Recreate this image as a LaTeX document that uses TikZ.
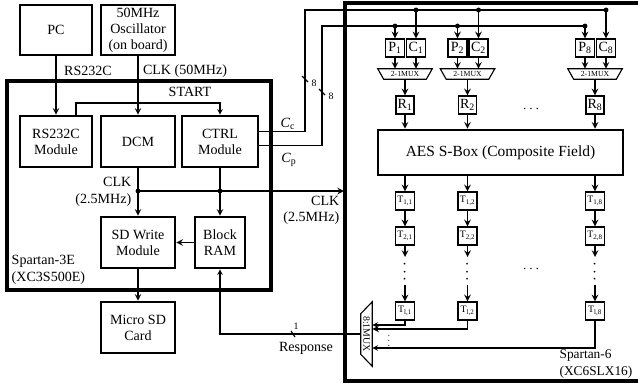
\documentclass[tikz,border=0pt]{standalone}
\usepackage{fontspec}
\setmainfont{Liberation Serif}
\usetikzlibrary{arrows, positioning, calc}
\tikzset{
  blk/.style={draw, line width=1.8pt, align=center, inner sep=0pt, font=\fontsize{10}{11.5}\selectfont},
  fpga/.style={draw, line width=2.6pt},
  reg/.style={draw, line width=1pt, minimum width=0.475cm, minimum height=0.45cm, inner sep=0pt, font=\fontsize{10}{10}\selectfont},
  treg/.style={reg, font=\fontsize{7}{7}\selectfont},
  muxl/.style={minimum width=1.35cm, minimum height=0.25cm, inner sep=0pt, font=\fontsize{5.5}{5.5}\selectfont},
  tra/.style={->, >=stealth, line width=1.1pt},
  bus/.style={line width=0.8pt},
  jun/.style={circle, fill, inner sep=0pt, minimum size=3.5pt},
  tlab/.style={font=\fontsize{10}{12}\selectfont, inner sep=1pt},
  vdt/.style={font=\fontsize{7}{7}\selectfont, inner sep=0pt}
}
\newcommand{\muxbox}[1]{\draw[bus] (#1.north west) -- (#1.north east) -- ([xshift=-0.15cm]#1.south east) -- ([xshift=0.15cm]#1.south west) -- cycle;}

\begin{document}
\begin{tikzpicture}[x=0.025cm, y=-0.025cm]
	\useasboundingbox (0,0) rectangle (638,384);
	% Spartan-3E board
	\draw[fpga] (7,81) rectangle (271,290);
	\node[tlab, align=left, anchor=west] (s3lab) at (10,270) {Spartan-3E\\(XC3S500E)};
	\node[blk, minimum width=1.8cm, minimum height=1.25cm] (pc) at (56,30) {PC};
	\node[blk, minimum width=1.85cm, minimum height=1.25cm] (osc) at (138,30) {50MHz\\Oscillator\\(on board)};
	\node[blk, minimum width=1.8cm, minimum height=1.275cm] (rsm) at (56,141.5) {RS232C\\Module};
	\node[blk, minimum width=1.85cm, minimum height=1.275cm] (dcm) at (138,141.5) {DCM};
	\node[blk, minimum width=1.9cm, minimum height=1.275cm] (ctrl) at (220,141.5) {CTRL\\Module};
	\node[blk, minimum width=1.85cm, minimum height=1.275cm] (sdw) at (138,242.5) {SD Write\\Module};
	\node[blk, minimum width=1.25cm, minimum height=1.275cm] (bram) at (220,242.5) {Block\\RAM};
	\node[blk, minimum width=1.85cm, minimum height=1.275cm] (msd) at (138,327.5) {Micro SD\\Card};
	\draw[tra] (pc) -- (rsm);
	\draw[tra] (osc) -- (dcm);
	\node[tlab] (rslab) at (88,71) {RS232C};
	\node[tlab] (clk50) at (185,71) {CLK (50MHz)};
	\draw[tra, line width=0.8pt] ([xshift=0.5cm]rsm.north) |- (ctrl.north |- 0,103) -- (ctrl.north);
	\node[tlab] (stlab) at (190,92) {START};
	\coordinate (ck) at (dcm.south |- 0,191);
	\coordinate (ck2) at (ctrl.south |- 0,191);
	\coordinate (s6in) at (344,191);
	\draw[tra] (dcm) -- (sdw);
	\draw[tra] (ctrl) -- (bram);
	\draw[tra] (ck) -- (s6in);
	\node[jun] at (ck) {};
	\node[jun] at (ck2) {};
	\node[tlab, align=right, anchor=east] (clk1) at (133,192) {CLK\\(2.5MHz)};
	\node[tlab, align=right, anchor=north east] (clk2) at (341,194) {CLK\\(2.5MHz)};
	\draw[tra] (bram) -- (sdw);
	\draw[tra] (sdw) -- (msd);
	% Spartan-6 board
	\draw[fpga] (660,3) -- (345,3) -- (345,381) -- (660,381);
	\node[tlab, align=left, anchor=east, font=\fontsize{9.5}{12}\selectfont] (s6lab) at (634,364) {Spartan-6\\(XC6SLX16)};
	\node[reg] (p1) at (395,48) {P\textsubscript{1}};
	\node[reg] (c1) at (416,48) {C\textsubscript{1}};
	\node[reg] (p2) at (457.5,48) {P\textsubscript{2}};
	\node[reg] (c2) at (478.5,48) {C\textsubscript{2}};
	\node[reg] (p8) at (585,48) {P\textsubscript{8}};
	\node[reg] (c8) at (606,48) {C\textsubscript{8}};
	\node[muxl] (m1) at (405,74) {2-1MUX};
	\node[muxl] (m2) at (467.5,74) {2-1MUX};
	\node[muxl] (m8) at (595,74) {2-1MUX};
	\muxbox{m1}
	\muxbox{m2}
	\muxbox{m8}
	\node[reg, minimum width=0.45cm] (r1) at (405,105) {R\textsubscript{1}};
	\node[reg, minimum width=0.45cm] (r2) at (467.5,105) {R\textsubscript{2}};
	\node[reg, minimum width=0.45cm] (r8) at (595,105) {R\textsubscript{8}};
	\node[blk, minimum width=6.125cm, minimum height=1.125cm, font=\fontsize{11}{13}\selectfont] (aes) at (500.5,152.5) {AES S-Box (Composite Field)};
	\node[treg] (t11) at (405,201) {T\textsubscript{1,1}};
	\node[treg] (t21) at (405,236) {T\textsubscript{2,1}};
	\node[treg] (tl1) at (405,311) {T\textsubscript{l,1}};
	\node[treg] (t12) at (467.5,201) {T\textsubscript{1,2}};
	\node[treg] (t22) at (467.5,236) {T\textsubscript{2,2}};
	\node[treg] (tl2) at (467.5,311) {T\textsubscript{l,2}};
	\node[treg] (t18) at (595,201) {T\textsubscript{1,8}};
	\node[treg] (t28) at (595,236) {T\textsubscript{2,8}};
	\node[treg] (tl8) at (595,311) {T\textsubscript{l,8}};
	\node[tlab] (hd1) at (531,109) {$\cdots$};
	\node[tlab] (hd2) at (531,269) {$\cdots$};
	% Cc and Cp buses
	\draw[bus] ([yshift=0.26cm]ctrl.east) -| (305,10) -- (c8 |- 0,10);
	\draw[bus] ([yshift=-0.11cm]ctrl.east) -| (322,26) -- (p8 |- 0,26);
	\draw[bus] (302,76) -- (308,82);
	\node[vdt] at (314,83) {8};
	\draw[bus] (319,89) -- (325,95);
	\node[vdt] at (331,96) {8};
	\node[tlab] (cclab) at (288,124) {\textit{C}\textsubscript{c}};
	\node[tlab] (cplab) at (289,160) {\textit{C}\textsubscript{p}};
	\draw[tra] (c1 |- 0,10) -- (c1);
	\draw[tra] (c2 |- 0,10) -- (c2);
	\draw[tra] (c8 |- 0,10) -- (c8);
	\draw[tra] (p1 |- 0,26) -- (p1);
	\draw[tra] (p2 |- 0,26) -- (p2);
	\draw[tra] (p8 |- 0,26) -- (p8);
	\node[jun] at (c1 |- 0,10) {};
	\node[jun] at (c2 |- 0,10) {};
	\node[jun] at (c8 |- 0,10) {};
	\node[jun] at (p1 |- 0,26) {};
	\node[jun] at (p2 |- 0,26) {};
	\node[jun] at (p8 |- 0,26) {};
	% columns
	\draw[tra] (p1) -- (p1 |- m1.north);
	\draw[tra] (c1) -- (c1 |- m1.north);
	\draw[tra] (m1.south) -- (r1);
	\draw[tra] (r1) -- (r1 |- aes.north);
	\draw[tra] (t11 |- aes.south) -- (t11);
	\draw[tra] (t11) -- (t21);
	\draw[tra] (t21) -- ++(0,21);
	\node[vdt, rotate=90, font=\fontsize{12}{12}\selectfont] at (405,272) {$\cdots$};
	\draw[tra] ([yshift=0.4cm]tl1.north) -- (tl1);
	\draw[tra] (p2) -- (p2 |- m2.north);
	\draw[tra] (c2) -- (c2 |- m2.north);
	\draw[tra] (m2.south) -- (r2);
	\draw[tra] (r2) -- (r2 |- aes.north);
	\draw[tra] (t12 |- aes.south) -- (t12);
	\draw[tra] (t12) -- (t22);
	\draw[tra] (t22) -- ++(0,21);
	\node[vdt, rotate=90, font=\fontsize{12}{12}\selectfont] at (467.5,272) {$\cdots$};
	\draw[tra] ([yshift=0.4cm]tl2.north) -- (tl2);
	\draw[tra] (p8) -- (p8 |- m8.north);
	\draw[tra] (c8) -- (c8 |- m8.north);
	\draw[tra] (m8.south) -- (r8);
	\draw[tra] (r8) -- (r8 |- aes.north);
	\draw[tra] (t18 |- aes.south) -- (t18);
	\draw[tra] (t18) -- (t28);
	\draw[tra] (t28) -- ++(0,21);
	\node[vdt, rotate=90, font=\fontsize{12}{12}\selectfont] at (595,272) {$\cdots$};
	\draw[tra] ([yshift=0.4cm]tl8.north) -- (tl8);
	% 8:1 MUX and response
	\node[rotate=-90, minimum width=1.6cm, minimum height=0.275cm, inner sep=0pt, font=\fontsize{7}{7}\selectfont] (omux) at (366.5,334) {8:1MUX};
	\draw[bus] (omux.north west) -- (omux.north east) -- ([yshift=0.3cm]omux.south east) -- ([yshift=-0.3cm]omux.south west) -- cycle;
	\draw[tra, line width=0.8pt] (tl1) |- (omux.north |- 0,325);
	\draw[tra] (tl2) |- (omux.north |- 0,329);
	\draw[tra, line width=0.8pt] (tl8) |- (omux.north |- 0,348);
	\node[vdt, rotate=90] at (389,341) {$\cdots$};
	\draw[tra, line width=0.8pt] (omux.south) -| (bram.south);
	\draw[bus] (291,331) -- (295,337);
	\node[vdt] at (296,326) {1};
	\node[tlab] (resp) at (306,348) {Response};
\end{tikzpicture}
\end{document}
